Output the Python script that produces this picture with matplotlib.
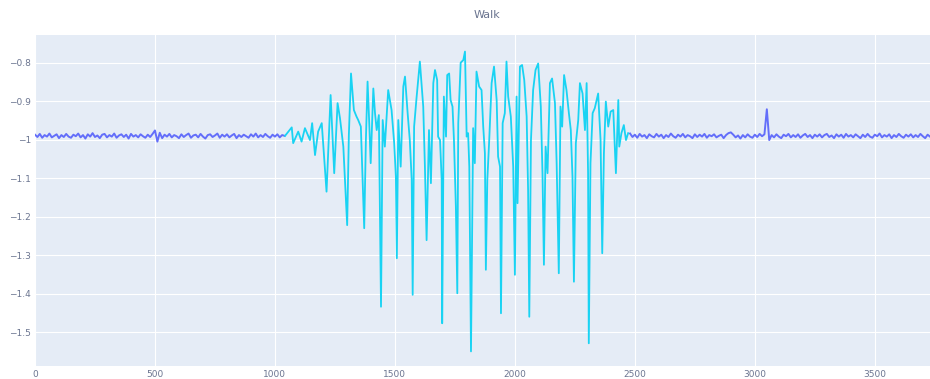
import numpy as np
import matplotlib.pyplot as plt

# resting part before the walk (one reading every 10 samples)
rest1_x = np.arange(0, 1050, 10)
rest1_y = [
    -0.987, -0.993, -0.985, -0.995, -0.988, -0.992, -0.984, -0.994, -0.990, -0.986,
    -0.996, -0.988, -0.993, -0.985, -0.992, -0.995, -0.987, -0.991, -0.984, -0.994,
    -0.988, -0.997, -0.986, -0.992, -0.983, -0.993, -0.989, -0.996, -0.987, -0.985,
    -0.994, -0.988, -0.992, -0.984, -0.995, -0.989, -0.986, -0.993, -0.987, -0.997,
    -0.985, -0.992, -0.988, -0.994, -0.986, -0.991, -0.995, -0.987, -0.993, -0.985,
    -0.976, -1.005, -0.982, -0.996, -0.987, -0.992, -0.985, -0.994, -0.988, -0.991,
    -0.996, -0.986, -0.993, -0.988, -0.984, -0.995, -0.989, -0.987, -0.994, -0.985,
    -0.992, -0.997, -0.988, -0.986, -0.993, -0.989, -0.984, -0.995, -0.987, -0.992,
    -0.986, -0.994, -0.989, -0.985, -0.996, -0.988, -0.993, -0.987, -0.991, -0.995,
    -0.986, -0.992, -0.984, -0.994, -0.988, -0.993, -0.985, -0.991, -0.995, -0.987,
    -0.992, -0.986, -0.994, -0.988, -0.990,
]

# walking part
walk_x = [
    1042, 1070, 1076, 1097, 1111, 1125, 1146, 1155, 1167, 1180, 1195, 1215,
    1232, 1247, 1261, 1271, 1285, 1301, 1308, 1317, 1329, 1340, 1347, 1358,
    1364, 1372, 1379, 1386, 1393, 1399, 1410, 1417, 1424, 1433, 1442, 1449,
    1458, 1472, 1486, 1497, 1504, 1508, 1514, 1524, 1535, 1542, 1553, 1562,
    1570, 1574, 1580, 1590, 1604, 1618, 1625, 1632, 1642, 1650, 1660, 1667,
    1676, 1680, 1688, 1695, 1697, 1704, 1713, 1718, 1726, 1732, 1740, 1746,
    1754, 1760, 1764, 1774, 1785, 1792, 1799, 1805, 1810, 1817, 1826, 1833,
    1840, 1851, 1861, 1868, 1875, 1879, 1885, 1893, 1903, 1913, 1924, 1930,
    1938, 1942, 1949, 1958, 1965, 1972, 1983, 1993, 2000, 2007, 2011, 2021,
    2030, 2039, 2049, 2055, 2060, 2067, 2076, 2086, 2097, 2108, 2115, 2121,
    2128, 2136, 2146, 2155, 2167, 2174, 2183, 2190, 2197, 2205, 2215, 2225,
    2233, 2240, 2246, 2254, 2264, 2271, 2282, 2292, 2299, 2305, 2308, 2315,
    2324, 2333, 2347, 2357, 2364, 2371, 2379, 2389, 2399, 2410, 2421, 2431,
    2435, 2444, 2454, 2463, 2472,
]
walk_y = [
    -0.990, -0.968, -1.009, -0.979, -1.005, -0.970, -1.001, -0.957, -1.040, -0.979, -0.957, -1.135,
    -0.884, -1.087, -0.905, -0.944, -1.018, -1.222, -0.988, -0.828, -0.923, -0.940, -0.949, -0.966,
    -1.079, -1.230, -1.001, -0.849, -0.957, -1.061, -0.867, -0.931, -0.975, -0.936, -1.434, -0.949,
    -1.018, -0.871, -0.923, -1.009, -1.096, -1.308, -0.949, -1.070, -0.862, -0.836, -0.931, -1.001,
    -1.105, -1.403, -0.966, -0.892, -0.797, -0.914, -1.070, -1.261, -0.975, -1.113, -0.853, -0.819,
    -0.845, -0.992, -1.001, -1.105, -1.477, -0.888, -0.992, -0.832, -0.828, -0.897, -0.914, -1.000,
    -1.174, -1.399, -0.957, -0.800, -0.793, -0.771, -0.992, -0.983, -1.070, -1.550, -0.970, -1.061,
    -0.823, -0.862, -0.871, -0.966, -1.035, -1.338, -1.105, -1.001, -0.853, -0.810, -0.897, -1.044,
    -1.070, -1.451, -0.957, -0.931, -0.797, -0.888, -0.940, -1.070, -1.351, -0.888, -1.165, -0.810,
    -0.806, -0.845, -0.940, -1.131, -1.460, -1.001, -0.871, -0.819, -0.802, -0.914, -1.087, -1.325,
    -1.018, -1.087, -0.853, -0.841, -0.905, -1.061, -1.347, -0.914, -0.966, -0.832, -0.871, -0.931,
    -0.975, -1.096, -1.369, -1.009, -0.949, -0.853, -0.880, -0.975, -0.853, -1.087, -1.529, -1.061,
    -0.931, -0.918, -0.880, -1.001, -1.295, -1.035, -0.901, -0.966, -0.927, -0.923, -1.087, -0.897,
    -1.018, -0.983, -0.962, -1.001, -0.983,
]

# resting part after the walk
rest2_x = np.arange(2480, 3740, 10)
rest2_y = [
    -0.984, -0.993, -0.987, -0.995, -0.985, -0.992, -0.988, -0.996, -0.986, -0.991,
    -0.994, -0.985, -0.992, -0.987, -0.996, -0.988, -0.993, -0.984, -0.991, -0.995,
    -0.987, -0.992, -0.985, -0.994, -0.988, -0.991, -0.996, -0.986, -0.993, -0.987,
    -0.992, -0.985, -0.995, -0.988, -0.991, -0.986, -0.994, -0.990, -0.987, -0.996,
    -0.988, -0.983, -0.981, -0.987, -0.994, -0.989, -0.997, -0.988, -0.994, -0.986,
    -0.992, -0.995, -0.987, -0.993, -0.985, -0.991, -0.986, -0.921, -1.001, -0.988,
    -0.994, -0.986, -0.992, -0.996, -0.987, -0.991, -0.985, -0.994, -0.988, -0.993,
    -0.986, -0.995, -0.989, -0.985, -0.993, -0.988, -0.996, -0.987, -0.992, -0.986,
    -0.994, -0.988, -0.985, -0.993, -0.989, -0.996, -0.986, -0.992, -0.987, -0.995,
    -0.985, -0.992, -0.988, -0.994, -0.986, -0.991, -0.996, -0.987, -0.993, -0.985,
    -0.992, -0.995, -0.987, -0.991, -0.984, -0.994, -0.988, -0.992, -0.986, -0.996,
    -0.988, -0.993, -0.985, -0.991, -0.995, -0.987, -0.992, -0.986, -0.994, -0.988,
    -0.993, -0.985, -0.991, -0.996, -0.987, -0.992,
]

xticks = [0, 500, 1000, 1500, 2000, 2500, 3000, 3500]
yticks = [-1.5, -1.4, -1.3, -1.2, -1.1, -1.0, -0.9, -0.8]
ylabels = ['\u22121.5', '\u22121.4', '\u22121.3', '\u22121.2', '\u22121.1', '\u22121', '\u22120.9', '\u22120.8']

txt = '#6b7590'

fig = plt.figure(figsize=(9.3, 3.79), dpi=100)
ax = fig.add_axes([35 / 930, 13 / 379, 895 / 930, 331 / 379])
ax.set_facecolor('#E5ECF6')

ax.plot(rest1_x, rest1_y, color='#636EFA', lw=1.4)
ax.plot(rest2_x, rest2_y, color='#636EFA', lw=1.4)
ax.plot(walk_x, walk_y, color='#19D3F3', lw=1.3)

ax.set_xlim(0, 3730)
ax.set_ylim(-1.588, -0.728)
ax.set_xticks(xticks)
ax.set_xticklabels([str(t) for t in xticks])
ax.set_yticks(yticks)
ax.set_yticklabels(ylabels)
ax.grid(True, color='white', lw=0.8)
ax.set_axisbelow(True)
for s in ax.spines.values():
    s.set_visible(False)
ax.tick_params(length=0, labelsize=6.5, colors=txt, pad=3)

fig.text(487 / 930, 1 - 15 / 379, 'Walk', ha='center', va='center', fontsize=8, color=txt)

fig.savefig('out.png', dpi=100)
